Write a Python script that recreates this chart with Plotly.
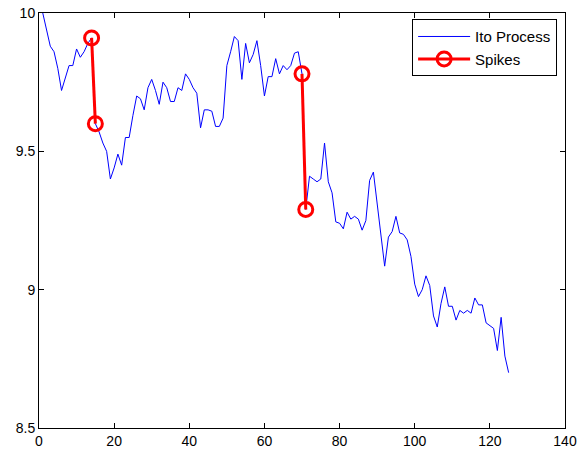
import plotly.graph_objects as go

ito_values = [
    10.00, 9.94, 9.88, 9.86, 9.80, 9.72, 9.77, 9.81, 9.81, 9.87,
    9.84, 9.86, 9.89, 9.91, 9.60, 9.57, 9.53, 9.50, 9.40, 9.44,
    9.49, 9.45, 9.55, 9.55, 9.63, 9.70, 9.69, 9.65, 9.73, 9.76,
    9.72, 9.67, 9.75, 9.73, 9.68, 9.68, 9.73, 9.72, 9.78, 9.76,
    9.73, 9.71, 9.585, 9.65, 9.65, 9.645, 9.59, 9.59, 9.62, 9.81,
    9.86, 9.915, 9.90, 9.76, 9.89, 9.82, 9.85, 9.90, 9.81, 9.70,
    9.77, 9.77, 9.835, 9.78, 9.81, 9.795, 9.81, 9.855, 9.86, 9.78,
    9.29, 9.41, 9.40, 9.39, 9.40, 9.53, 9.39, 9.35, 9.245, 9.24,
    9.22, 9.28, 9.255, 9.265, 9.255, 9.215, 9.25, 9.395, 9.425, 9.31,
    9.20, 9.085, 9.19, 9.21, 9.265, 9.205, 9.20, 9.18, 9.12, 9.02,
    8.975, 9.00, 9.05, 9.015, 8.905, 8.865, 8.95, 9.01, 8.94, 8.94,
    8.89, 8.925, 8.915, 8.925, 8.915, 8.97, 8.945, 8.945, 8.88, 8.87,
    8.86, 8.78, 8.90, 8.76, 8.70,
]
ito_x = list(range(1, len(ito_values) + 1))

spike_x = [14, 15, None, 70, 71]
spike_y = [9.91, 9.60, None, 9.78, 9.29]

x_ticks = [0, 20, 40, 60, 80, 100, 120, 140]
y_ticks = [8.5, 9, 9.5, 10]
y_tick_labels = ["8.5", "9", "9.5", "10"]

fig = go.Figure()
fig.add_trace(go.Scatter(
    x=ito_x, y=ito_values, mode="lines", name="Ito Process",
    line=dict(color="#0000FF", width=1),
))
fig.add_trace(go.Scatter(
    x=spike_x, y=spike_y, mode="lines+markers", name="Spikes",
    line=dict(color="#FF0000", width=3),
    marker=dict(symbol="circle-open", size=14, color="#FF0000",
                line=dict(width=3, color="#FF0000")),
    connectgaps=False,
))

axis_common = dict(
    showgrid=False, zeroline=False, showline=True, linecolor="black",
    linewidth=1, mirror="ticks", ticks="inside", ticklen=5,
    tickcolor="black", automargin=False,
    tickfont=dict(family="Liberation Sans, Arial", size=14, color="black"),
)

fig.update_layout(
    width=582, height=453, autosize=False,
    margin=dict(l=39, r=17, t=13, b=25, pad=0),
    paper_bgcolor="white", plot_bgcolor="white",
    xaxis=dict(range=[0, 140], tickvals=x_ticks, **axis_common),
    yaxis=dict(range=[8.5, 10], tickvals=y_ticks, ticktext=y_tick_labels, **axis_common),
    legend=dict(
        x=0.985, y=0.985, xanchor="right", yanchor="top",
        bgcolor="white", bordercolor="black", borderwidth=1,
        font=dict(family="Liberation Sans, Arial", size=15, color="black"),
        tracegroupgap=0, itemwidth=52,
    ),
    showlegend=True,
)

fig.write_html(
    "out.html",
    config={"responsive": False, "displayModeBar": False},
    post_script="document.body.style.margin='0';document.body.style.overflow='hidden';",
)
